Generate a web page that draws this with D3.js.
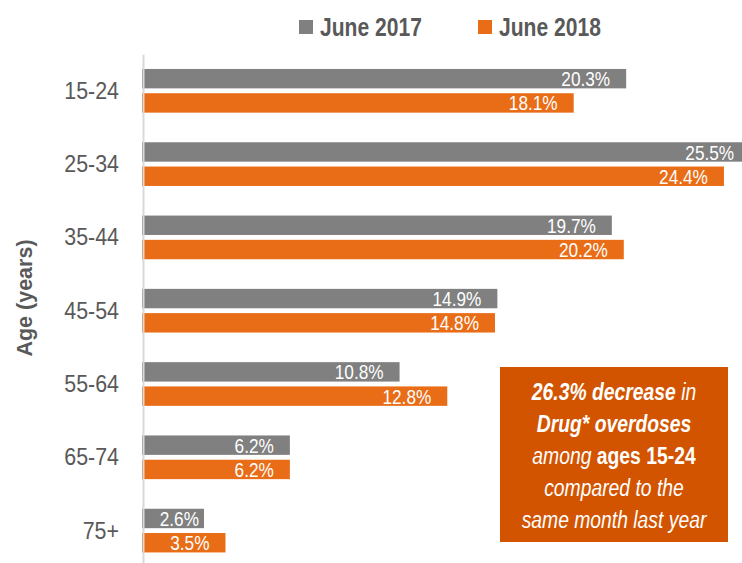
<!DOCTYPE html>
<html>
<head>
<meta charset="utf-8">
<script src="https://cdn.jsdelivr.net/npm/d3@7"></script>
<style>
  body { margin: 0; background: #fff; }
  svg { display: block; font-family: "Liberation Sans", Arial, sans-serif; }
</style>
</head>
<body>
<div id="chart"></div>
<script>
// data
const ageGroups = ["15-24", "25-34", "35-44", "45-54", "55-64", "65-74", "75+"];
const seriesNames = ["June 2017", "June 2018"];
const june2017 = [20.3, 25.5, 19.7, 14.9, 10.8, 6.2, 2.6];
const june2018 = [18.1, 24.4, 20.2, 14.8, 12.8, 6.2, 3.5];
const seriesColors = ["#808080", "#E96C16"];

const W = 742, H = 563;
const svg = d3.select("#chart").append("svg")
    .attr("width", W)
    .attr("height", H);

// the original uses a narrow face; squeeze the text horizontally to match
function narrow(sel, f) {
    sel.each(function () {
        const w = this.getComputedTextLength();
        d3.select(this)
            .attr("textLength", w * f)
            .attr("lengthAdjust", "spacingAndGlyphs");
    });
}

const rows = ageGroups.map((age, i) => ({
    age,
    values: [
        { key: seriesNames[0], value: june2017[i] },
        { key: seriesNames[1], value: june2018[i] }
    ]
}));

// scales
const x = d3.scaleLinear().domain([0, 30]).range([142, 142 + 30 * 23.85]);
const y0 = d3.scaleBand()
    .domain(ageGroups)
    .range([54.3, 567.1])
    .paddingInner(0.404)
    .paddingOuter(0.2);
const y1 = d3.scaleBand()
    .domain(seriesNames)
    .range([0, y0.bandwidth()])
    .paddingInner(0.2);
const color = d3.scaleOrdinal().domain(seriesNames).range(seriesColors);

// bars
const groups = svg.selectAll("g.group")
    .data(rows)
    .join("g")
    .attr("class", "group")
    .attr("transform", d => `translate(0,${y0(d.age)})`);

groups.selectAll("rect")
    .data(d => d.values)
    .join("rect")
    .attr("x", x(0))
    .attr("y", d => y1(d.key))
    .attr("width", d => x(d.value) - x(0))
    .attr("height", y1.bandwidth())
    .attr("fill", d => color(d.key));

// value labels, right-aligned inside bars
const valLabels = groups.selectAll("text.val")
    .data(d => d.values)
    .join("text")
    .attr("class", "val")
    .attr("y", d => y1(d.key) + y1.bandwidth() / 2)
    .attr("dy", "0.36em")
    .attr("text-anchor", "end")
    .style("font-size", "21px")
    .style("fill", "#fff")
    .text(d => d.value.toFixed(1) + "%");
narrow(valLabels, 0.82);
valLabels.attr("x", function (d) {
    const tw = +d3.select(this).attr("textLength");
    const bw = x(d.value) - x(0);
    return x(d.value) - (bw - tw < 30 ? 5 : 16);
});

// y axis
const yAxis = svg.append("g")
    .attr("transform", `translate(143,0)`)
    .call(d3.axisLeft(y0).tickSize(0).tickPadding(24));
yAxis.select(".domain").attr("stroke", "#D9D9D9").attr("stroke-width", 2);
const tickText = yAxis.selectAll(".tick text")
    .attr("font-family", null)
    .attr("dy", "0.35em")
    .style("font-size", "23px")
    .style("fill", "#595959");
narrow(tickText, 0.93);

svg.append("text")
    .attr("transform", "translate(32,298) rotate(-90)")
    .attr("text-anchor", "middle")
    .style("font-size", "21.5px")
    .style("font-weight", "bold")
    .style("fill", "#595959")
    .text("Age (years)");

// legend
const legendX = [299, 478];
const legend = svg.selectAll("g.legend")
    .data(seriesNames)
    .join("g")
    .attr("class", "legend")
    .attr("transform", (d, i) => `translate(${legendX[i]},20)`);
legend.append("rect")
    .attr("width", 14)
    .attr("height", 14)
    .attr("fill", d => color(d));
const legendText = legend.append("text")
    .attr("x", 21)
    .attr("y", 16)
    .style("font-size", "26px")
    .style("font-weight", "bold")
    .style("fill", "#595959")
    .text(d => d);
narrow(legendText, 0.81);

// annotation box
const noteLines = [
    [{ t: "26.3% decrease", b: true, i: true }, { t: " in", b: false, i: true }],
    [{ t: "Drug* overdoses", b: true, i: true }],
    [{ t: "among ", b: false, i: true }, { t: "ages 15-24", b: true, i: false }],
    [{ t: "compared to the", b: false, i: true }],
    [{ t: "same month last year", b: false, i: true }]
];
svg.append("rect")
    .attr("x", 500)
    .attr("y", 367)
    .attr("width", 228)
    .attr("height", 175)
    .attr("fill", "#D35400");
const noteText = svg.append("g")
    .selectAll("text")
    .data(noteLines)
    .join("text")
    .attr("x", 614)
    .attr("y", (d, i) => 399.5 + i * 32)
    .attr("text-anchor", "middle")
    .style("font-size", "23px")
    .style("fill", "#fff");
noteText.selectAll("tspan")
    .data(d => d)
    .join("tspan")
    .style("font-weight", d => d.b ? "bold" : "normal")
    .style("font-style", d => d.i ? "italic" : "normal")
    .text(d => d.t);
narrow(noteText, 0.84);
</script>
</body>
</html>
